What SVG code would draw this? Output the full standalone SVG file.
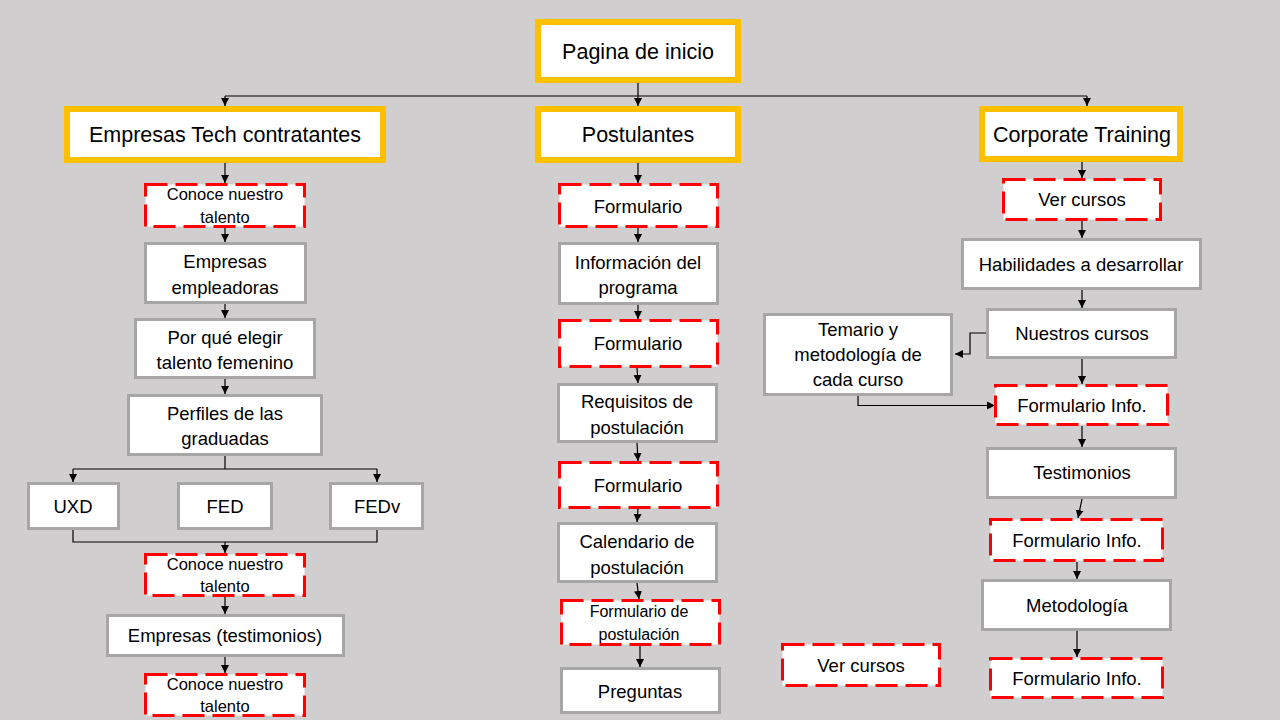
<svg xmlns="http://www.w3.org/2000/svg" width="1280" height="720" viewBox="0 0 1280 720">
<defs>
<marker id="arr" markerUnits="userSpaceOnUse" markerWidth="9" markerHeight="9" refX="8" refY="4.5" orient="auto">
<path d="M0,0.5 L8,4.5 L0,8.5 z" fill="#000"/>
</marker>
<style>
.hdr rect{fill:#fff;stroke:#FFC000;stroke-width:6}
.pg rect{fill:#fff;stroke:#A6A6A6;stroke-width:3}
.fm rect{fill:#fff;stroke:#FF0000;stroke-width:3;stroke-dasharray:22 8}
text{font-family:"Liberation Sans",Arial,sans-serif;fill:#000;text-anchor:middle;dominant-baseline:central}
.hdr text{font-size:21.5px}
.pg text{font-size:18.5px}
.fm text{font-size:18.5px}
.fm text.s{font-size:16.5px}
.fm text.xs{font-size:16px}
#connectors path{fill:none;stroke:#000;stroke-width:1.2}
#connectors path.a{marker-end:url(#arr)}
</style>
</defs>
<rect x="0" y="0" width="1280" height="720" fill="#D0CECE"/>

<g id="connectors">
<path class="a" d="M638 83 V106"/>
<path d="M225 96 H1087"/>
<path class="a" d="M225 96 V106"/>
<path class="a" d="M1087 96 V106"/>
<path class="a" d="M225 163 V183"/>
<path class="a" d="M225 228 V242"/>
<path class="a" d="M225 304 V318"/>
<path class="a" d="M225 379 V394"/>
<path d="M225 456 V469 M73 469 H377"/>
<path class="a" d="M73 469 V482"/>
<path class="a" d="M377 469 V482"/>
<path d="M73 530 V542 H377 V530"/>
<path class="a" d="M225 542 V553"/>
<path class="a" d="M225 597 V614"/>
<path class="a" d="M225 657 V673"/>
<path class="a" d="M638 163 V183"/>
<path class="a" d="M638 228 V242"/>
<path class="a" d="M638 305 V319"/>
<path class="a" d="M637 368 L638 383"/>
<path class="a" d="M637 443 L638 461"/>
<path class="a" d="M638 509 L637 522"/>
<path class="a" d="M637 583 L639 599"/>
<path class="a" d="M640 646 V667"/>
<path class="a" d="M1082 162 V178"/>
<path class="a" d="M1082 221 V238"/>
<path class="a" d="M1082 290 V308"/>
<path class="a" d="M986 333 H970 V354 H955"/>
<path class="a" d="M858 396 V405.5 H995"/>
<path class="a" d="M1082 359 V384"/>
<path class="a" d="M1082 426 V447"/>
<path class="a" d="M1082 499 L1078 518"/>
<path class="a" d="M1077 562 V579"/>
<path class="a" d="M1077 631 V657"/>
</g>

<g id="n-inicio" class="hdr"><rect x="538" y="22" width="200" height="58"/><text x="638" y="51.5">Pagina de inicio</text></g>
<g id="n-empresas-tech" class="hdr"><rect x="67" y="109" width="316" height="51"/><text x="225" y="135">Empresas Tech contratantes</text></g>
<g id="n-postulantes" class="hdr"><rect x="538" y="109" width="200" height="51"/><text x="638" y="135">Postulantes</text></g>
<g id="n-corporate" class="hdr"><rect x="982" y="109" width="198" height="50"/><text x="1082" y="135">Corporate Training</text></g>

<g id="n-conoce1" class="fm"><rect x="145.5" y="184.5" width="159" height="42"/><text class="s" x="225" y="194">Conoce nuestro</text><text class="s" x="225" y="217">talento</text></g>
<g id="n-empleadoras" class="pg"><rect x="145.5" y="243.5" width="160" height="59"/><text x="225" y="261">Empresas</text><text x="225" y="287">empleadoras</text></g>
<g id="n-porque" class="pg"><rect x="135.5" y="319.5" width="179" height="58"/><text x="225" y="337">Por qué elegir</text><text x="225" y="362">talento femenino</text></g>
<g id="n-perfiles" class="pg"><rect x="128.5" y="395.5" width="193" height="59"/><text x="225" y="413">Perfiles de las</text><text x="225" y="438">graduadas</text></g>
<g id="n-uxd" class="pg"><rect x="28.5" y="483.5" width="90" height="45"/><text x="73" y="506.5">UXD</text></g>
<g id="n-fed" class="pg"><rect x="178.5" y="483.5" width="93" height="45"/><text x="225" y="506.5">FED</text></g>
<g id="n-fedv" class="pg"><rect x="330.5" y="483.5" width="92" height="45"/><text x="377" y="506.5">FEDv</text></g>
<g id="n-conoce2" class="fm"><rect x="145.5" y="554.5" width="159" height="41"/><text class="s" x="225" y="563.5">Conoce nuestro</text><text class="s" x="225" y="586">talento</text></g>
<g id="n-testimonios-emp" class="pg"><rect x="107.5" y="615.5" width="236" height="40"/><text x="225" y="635.5">Empresas (testimonios)</text></g>
<g id="n-conoce3" class="fm"><rect x="145.5" y="674.5" width="159" height="41"/><text class="s" x="225" y="683.5">Conoce nuestro</text><text class="s" x="225" y="706">talento</text></g>

<g id="n-form1" class="fm"><rect x="559.5" y="184.5" width="158" height="42"/><text x="638" y="206.5">Formulario</text></g>
<g id="n-info" class="pg"><rect x="559.5" y="243.5" width="158" height="60"/><text x="638" y="262">Información del</text><text x="638" y="287.5">programa</text></g>
<g id="n-form2" class="fm"><rect x="559.5" y="320.5" width="158" height="46"/><text x="638" y="343.5">Formulario</text></g>
<g id="n-requisitos" class="pg"><rect x="558.5" y="384.5" width="158" height="57"/><text x="637" y="401">Requisitos de</text><text x="637" y="427">postulación</text></g>
<g id="n-form3" class="fm"><rect x="559.5" y="462.5" width="158" height="45"/><text x="638" y="485.5">Formulario</text></g>
<g id="n-calendario" class="pg"><rect x="558.5" y="523.5" width="158" height="58"/><text x="637" y="541">Calendario de</text><text x="637" y="567">postulación</text></g>
<g id="n-formpost" class="fm"><rect x="561.5" y="600.5" width="158" height="44"/><text class="xs" x="639" y="611">Formulario de</text><text class="xs" x="639" y="634">postulación</text></g>
<g id="n-preguntas" class="pg"><rect x="561.5" y="668.5" width="158" height="44"/><text x="640" y="691.5">Preguntas</text></g>

<g id="n-vercursos1" class="fm"><rect x="1003.5" y="179.5" width="157" height="40"/><text x="1082" y="199.5">Ver cursos</text></g>
<g id="n-habilidades" class="pg"><rect x="962.5" y="239.5" width="238" height="49"/><text x="1081" y="264.5">Habilidades a desarrollar</text></g>
<g id="n-nuestros" class="pg"><rect x="987.5" y="309.5" width="188" height="48"/><text x="1082" y="333.5">Nuestros cursos</text></g>
<g id="n-temario" class="pg"><rect x="764.5" y="314.5" width="187" height="80"/><text x="858" y="329">Temario y</text><text x="858" y="354.5">metodología de</text><text x="858" y="379.5">cada curso</text></g>
<g id="n-fi1" class="fm"><rect x="995.5" y="385.5" width="172" height="39"/><text x="1082" y="405.5">Formulario Info.</text></g>
<g id="n-testimonios" class="pg"><rect x="987.5" y="448.5" width="188" height="49"/><text x="1082" y="472.5">Testimonios</text></g>
<g id="n-fi2" class="fm"><rect x="990.5" y="519.5" width="172" height="41"/><text x="1077" y="540">Formulario Info.</text></g>
<g id="n-metodologia" class="pg"><rect x="982.5" y="580.5" width="188" height="49"/><text x="1077" y="605">Metodología</text></g>
<g id="n-fi3" class="fm"><rect x="990.5" y="658.5" width="172" height="39"/><text x="1077" y="678">Formulario Info.</text></g>
<g id="n-vercursos2" class="fm"><rect x="782.5" y="644.5" width="157" height="41"/><text x="861" y="665.5">Ver cursos</text></g>
</svg>
